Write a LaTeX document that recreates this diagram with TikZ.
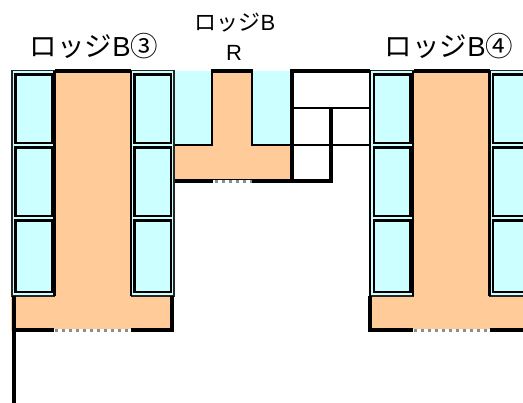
\documentclass[tikz,border=0pt]{standalone}
\usepackage{fontspec}
\setmainfont{Liberation Sans}
\newfontfamily\jpfont{Noto Sans CJK JP}
\definecolor{cy}{HTML}{CCFFFF}
\definecolor{orng}{HTML}{FFCC99}
\tikzset{
  wall/.style={line width=4pt,black},
  thinwall/.style={line width=2.8pt,black},
  win/.style={draw=black,line width=2.8pt,fill=cy},
  colbox/.style={draw=black!85,line width=1.6pt,fill=cy},
  hatchline/.style={line width=3pt,draw=black!45,dash pattern=on 3pt off 4pt},
  hatchbase/.style={line width=4.2pt,draw=white},
  title/.style={inner sep=0pt,font=\fontsize{27.5}{27.5}\selectfont},
  smalltitle/.style={inner sep=0pt,font=\fontsize{22}{22}\selectfont}
}
\newcommand{\lodge}[1]{%
\begin{scope}[xshift=#1 pt]
  \fill[orng] (11,70) rectangle (174,331);
  \draw[colbox] (12,70.5) rectangle (54.5,296);
  \draw[colbox] (131.5,70.5) rectangle (174,296);
  \foreach \ya/\yb in {74.5/143,147.5/216,220.5/292}{
    \draw[win] (15.5,\ya) rectangle (52,\yb);
    \draw[win] (134.5,\ya) rectangle (171,\yb);
  }
  \draw[line width=2.8pt] (54.5,71) -- (54.5,296);
  \draw[line width=2.8pt] (131,71) -- (131,296);
  \draw[wall] (55,71) -- (131,71);
  \draw[wall] (13,330) -- (54,330);
  \draw[wall] (131,330) -- (173,330);
  \draw[hatchbase] (54,331) -- (131,331);
  \draw[hatchline] (55,330.5) -- (131,330.5);
\end{scope}}
\begin{document}
\begin{tikzpicture}[x=1pt,y=-1pt]
\useasboundingbox (0,0) rectangle (523,403);
\fill[white] (0,0) rectangle (523,403);
% middle
\fill[cy] (174,71) rectangle (291,144);
\fill[orng] (212,71) rectangle (252,144);
\fill[orng] (174,144) rectangle (291,181);
\draw[thinwall] (212,71) -- (212,145) -- (174,145);
\draw[thinwall] (252,71) -- (252,145) -- (370,145);
\draw[thinwall] (291,108) -- (370,108);
\draw[wall] (211,71) -- (253,71);
\draw[wall] (291,71) -- (370,71);
\draw[wall] (291.5,69) -- (291.5,183);
\draw[wall] (331,108) -- (331,183);
\draw[wall] (174,181) -- (333,181);
\draw[hatchbase] (213,182) -- (252,182);
\draw[hatchline] (215,181.5) -- (252,181.5);
\lodge{0}
\lodge{358.5}
\draw[wall] (13.5,296) -- (13.5,403);
\draw[wall] (172,296) -- (172,332);
\draw[wall] (370,296) -- (370,332);
\draw[thinwall] (370,70) -- (370,296);
\node[title] (t3) at (94,46) {{\jpfont ロッジ}B{\jpfont ③}};
\node[title] (t4) at (449,46) {{\jpfont ロッジ}B{\jpfont ④}};
\node[smalltitle] (tr1) at (235,23) {{\jpfont ロッジ}B};
\node[smalltitle] (tr2) at (234,53) {R};
\end{tikzpicture}
\end{document}
